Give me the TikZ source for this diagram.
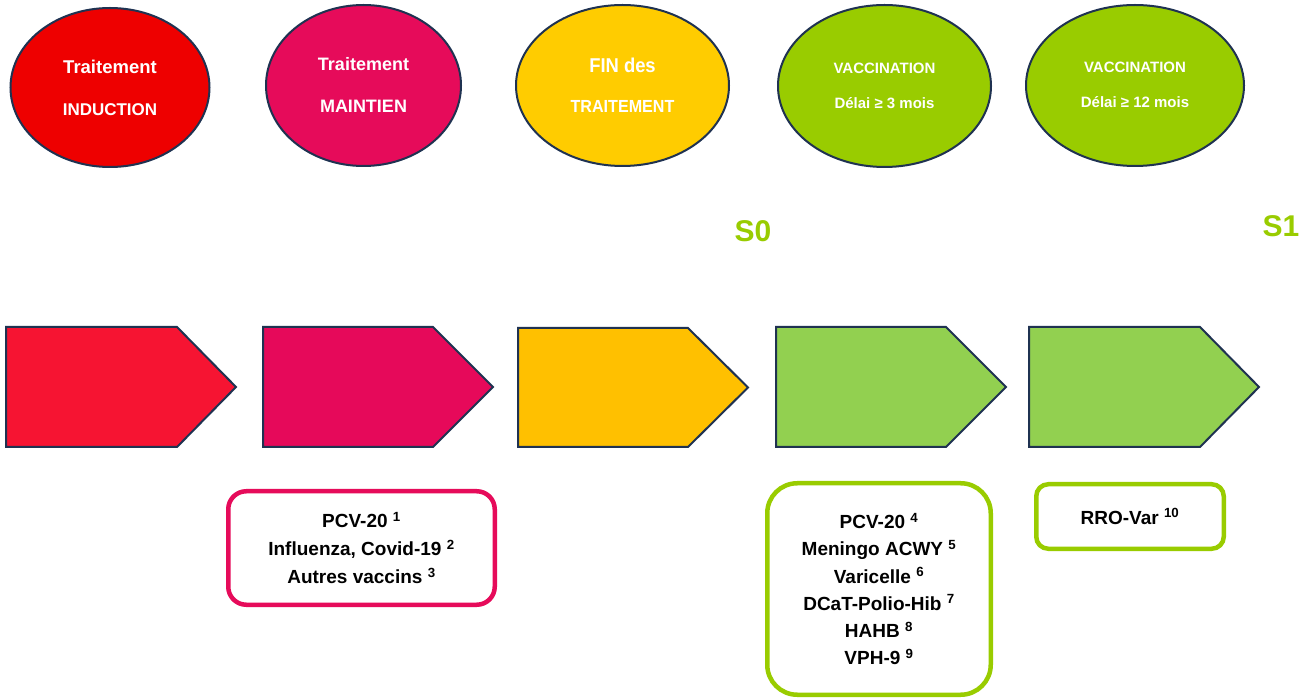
\documentclass[tikz,border=0pt]{standalone}
\usepackage{fontspec}
\setmainfont{Liberation Sans}
\newfontfamily\narrowfont[FakeStretch=0.92]{Liberation Sans}
\usetikzlibrary{shapes.geometric}
\definecolor{navy}{HTML}{1F3251}
\definecolor{eRed}{HTML}{EE0000}
\definecolor{ePink}{HTML}{E60B5A}
\definecolor{eYel}{HTML}{FFCC00}
\definecolor{eGrn}{HTML}{99CC00}
\definecolor{pRed}{HTML}{F61432}
\definecolor{pPink}{HTML}{E6095A}
\definecolor{pYel}{HTML}{FFC000}
\definecolor{pGrn}{HTML}{92D050}
\tikzset{
  ell/.style={ellipse, draw=navy, line width=2pt, inner sep=0pt},
  wtxt/.style={text=white, anchor=base, inner sep=0pt, font=\bfseries\fontsize{18}{20}\selectfont},
  gtxt/.style={text=white, anchor=base, inner sep=0pt, font=\bfseries\fontsize{15}{18}\selectfont},
  pent/.style={draw=navy, line width=2pt, line join=miter},
  stxt/.style={text=eGrn, anchor=base, inner sep=0pt, font=\bfseries\fontsize{30}{34}\selectfont},
  vbox/.style={draw, line width=4.5pt, fill=white, align=center, inner sep=0pt, text=black},
}
\begin{document}
\begin{tikzpicture}[x=1pt,y=-1pt]
\useasboundingbox[fill=white] (0,0) rectangle (1310,700);

% top ellipses
\node[ell, fill=eRed, minimum width=199pt, minimum height=159pt] (e1) at (110,87.5) {};
\node[wtxt, font=\bfseries\fontsize{18.5}{20}\selectfont] (e1a) at (110,74) {Traitement};
\node[wtxt, font=\bfseries\fontsize{17}{20}\selectfont] (e1b) at (110,116) {INDUCTION};

\node[ell, fill=ePink, minimum width=195pt, minimum height=161pt] (e2) at (363.5,85.5) {};
\node[wtxt] (e2a) at (363.5,71) {Traitement};
\node[wtxt] (e2b) at (363.5,113) {MAINTIEN};

\node[ell, fill=eYel, minimum width=213pt, minimum height=161pt] (e3) at (622.5,85.5) {};
\node[wtxt, font=\narrowfont\bfseries\fontsize{20}{22}\selectfont] (e3a) at (622.5,72.5) {FIN des};
\node[wtxt, font=\narrowfont\bfseries\fontsize{17.5}{20}\selectfont] (e3b) at (622.5,112.5) {TRAITEMENT};

\node[ell, fill=eGrn, minimum width=213pt, minimum height=162pt] (e4) at (884.5,86) {};
\node[gtxt] (e4a) at (884.5,74) {VACCINATION};
\node[gtxt] (e4b) at (884.5,109) {Délai ≥ 3 mois};

\node[ell, fill=eGrn, minimum width=218pt, minimum height=161pt] (e5) at (1135,85.5) {};
\node[gtxt] (e5a) at (1135,73) {VACCINATION};
\node[gtxt] (e5b) at (1135,108) {Délai ≥ 12 mois};

% S labels
\node[stxt] (s0) at (753,242) {S0};
\node[stxt] (s1) at (1281,237) {S1};

% pentagon arrows
\draw[pent, fill=pRed]  (6,327) -- (177,327) -- (236,387) -- (177,447) -- (6,447) -- cycle;
\draw[pent, fill=pPink] (263,327) -- (433,327) -- (493,387) -- (433,447) -- (263,447) -- cycle;
\draw[pent, fill=pYel]  (518,328) -- (688,328) -- (748,387.5) -- (688,447) -- (518,447) -- cycle;
\draw[pent, fill=pGrn]  (776,327) -- (946,327) -- (1006,387) -- (946,447) -- (776,447) -- cycle;
\draw[pent, fill=pGrn]  (1029,327) -- (1200,327) -- (1259,387) -- (1200,447) -- (1029,447) -- cycle;

% vaccine boxes
\node[vbox, draw=ePink, rounded corners=18pt, minimum width=266.5pt, minimum height=113.5pt,
      font=\bfseries\fontsize{19}{28}\selectfont] (b1) at (361.5,548)
  {PCV-20 \textsuperscript{1}\\Influenza, Covid-19 \textsuperscript{2}\\Autres vaccins \textsuperscript{3}};

\node[vbox, draw=eGrn, rounded corners=30pt, minimum width=223.5pt, minimum height=211.5pt,
      font=\bfseries\fontsize{19}{27.2}\selectfont] (b2) at (879,589)
  {PCV-20 \textsuperscript{4}\\Meningo ACWY \textsuperscript{5}\\Varicelle \textsuperscript{6}\\DCaT-Polio-Hib \textsuperscript{7}\\HAHB \textsuperscript{8}\\VPH-9 \textsuperscript{9}};

\node[vbox, draw=eGrn, rounded corners=12pt, minimum width=187.5pt, minimum height=64.5pt,
      font=\bfseries\fontsize{19}{27}\selectfont] (b3) at (1130,516.5)
  {RRO-Var \textsuperscript{10}};
\end{tikzpicture}
\end{document}
